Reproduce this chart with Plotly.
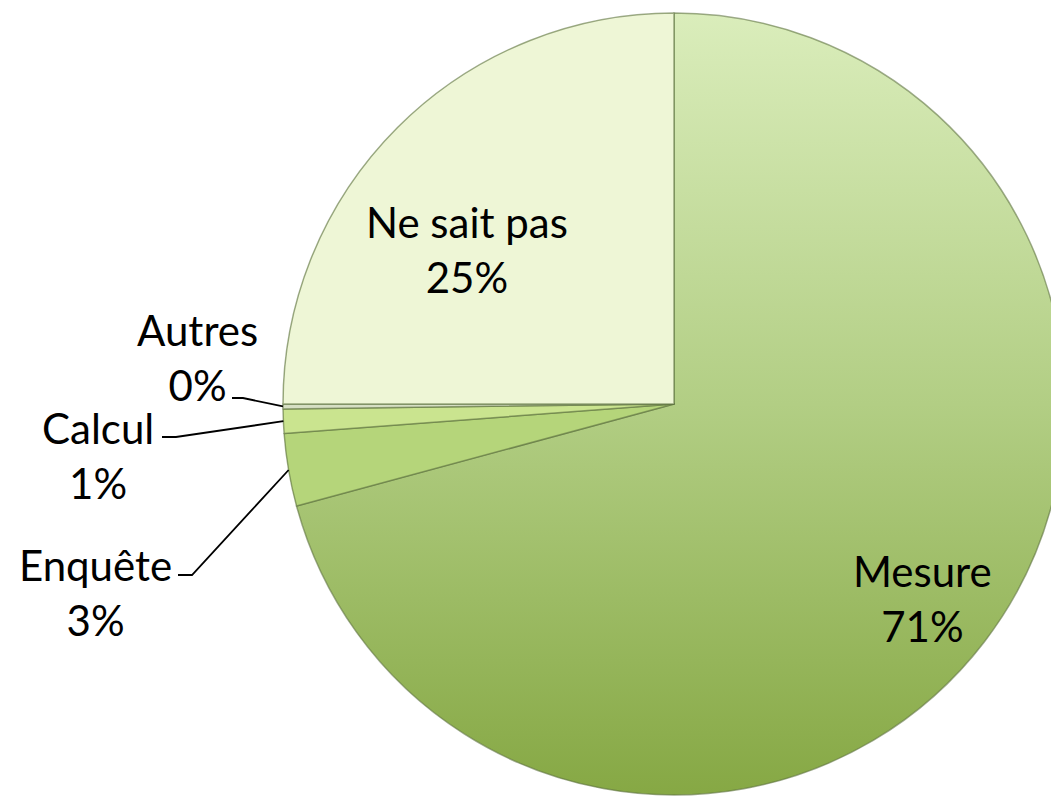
import base64
import math
import plotly.graph_objects as go

# ---- data ----
labels = ["Mesure", "Enquête", "Calcul", "Autres", "Ne sait pas"]
values = [70.8, 3.0, 1.0, 0.2, 25.0]
slice_colors = ["rgba(0,0,0,0)", "#b5d57a", "#cae48f", "#d6dfc4", "#eef6d6"]

# ---- layout constants (pixels) ----
W, H = 1100, 797
CX, CY, R = 674, 404, 391   # pie centre / radius in page pixels

dom_x = [(CX - R) / W, (CX + R) / W]
dom_y = [1 - (CY + R) / H, 1 - (CY - R) / H]


def px(x, y):
    return x / W, 1 - y / H


total = sum(values)
cum = []
acc = 0.0
for v in values:
    cum.append((acc, acc + v))
    acc += v


def edge_point(i, rr=1.0):
    a0, a1 = cum[i]
    th = 2 * math.pi * ((a0 + a1) / 2) / total
    return CX + R * rr * math.sin(th), CY - R * rr * math.cos(th)


fig = go.Figure(go.Pie(
    labels=labels,
    values=values,
    sort=False,
    direction="clockwise",
    rotation=0,
    textinfo="none",
    hoverinfo="label+percent",
    marker=dict(colors=slice_colors, line=dict(color="rgba(95,115,65,0.6)", width=1.5)),
    domain=dict(x=dom_x, y=dom_y),
    showlegend=False,
))

# gradient disc behind the chart (shows through the Mesure slice)
svg = (
    '<svg xmlns="http://www.w3.org/2000/svg" viewBox="0 0 100 100" preserveAspectRatio="none">'
    '<defs><linearGradient id="g" x1="0" y1="0" x2="0" y2="1">'
    '<stop offset="0" stop-color="#daedbb"/>'
    '<stop offset="0.5" stop-color="#b2ce84"/>'
    '<stop offset="1" stop-color="#86a844"/>'
    '</linearGradient></defs>'
    '<circle cx="50" cy="50" r="50" fill="url(#g)"/></svg>'
)
src = "data:image/svg+xml;base64," + base64.b64encode(svg.encode()).decode()
fig.add_layout_image(dict(
    source=src, xref="paper", yref="paper",
    x=dom_x[0], y=dom_y[1], sizex=dom_x[1] - dom_x[0], sizey=dom_y[1] - dom_y[0],
    xanchor="left", yanchor="top", sizing="stretch", layer="below",
))

FONT = dict(family="Lato, 'Open Sans', sans-serif", size=42, color="#000000")

# label anchor positions (pixels) for each slice
label_pos = {
    "Mesure": (922, 598),
    "Ne sait pas": (467, 249),
    "Autres": (197, 357),
    "Calcul": (98, 455),
    "Enquête": (95, 592),
}
# leader line start points (pixels) for outside labels: (text end, elbow)
leader = {
    "Autres": [(232, 398), (243, 398)],
    "Calcul": [(162, 437), (176, 437)],
    "Enquête": [(178, 575), (192, 575)],
}

for i, (lab, v) in enumerate(zip(labels, values)):
    pct = round(100 * v / total)
    x, y = px(*label_pos[lab])
    fig.add_annotation(
        x=x, y=y, xref="paper", yref="paper", showarrow=False,
        text=f"{lab}<br>{pct}%", font=FONT, align="center",
        xanchor="center", yanchor="middle",
    )
    if lab in leader:
        pts = leader[lab] + [edge_point(i)]
        path = "M " + " L ".join(f"{px(a, b)[0]:.5f},{px(a, b)[1]:.5f}" for a, b in pts)
        fig.add_shape(type="path", path=path, xref="paper", yref="paper",
                      line=dict(color="#000000", width=1.8))

fig.update_layout(
    width=W, height=H,
    margin=dict(l=0, r=0, t=0, b=0),
    paper_bgcolor="#ffffff",
    plot_bgcolor="#ffffff",
)

fig.write_html(
    "out.html",
    config={"displayModeBar": False},
    post_script="document.body.style.margin='0';document.body.style.overflow='hidden';document.documentElement.style.overflow='hidden';",
)
